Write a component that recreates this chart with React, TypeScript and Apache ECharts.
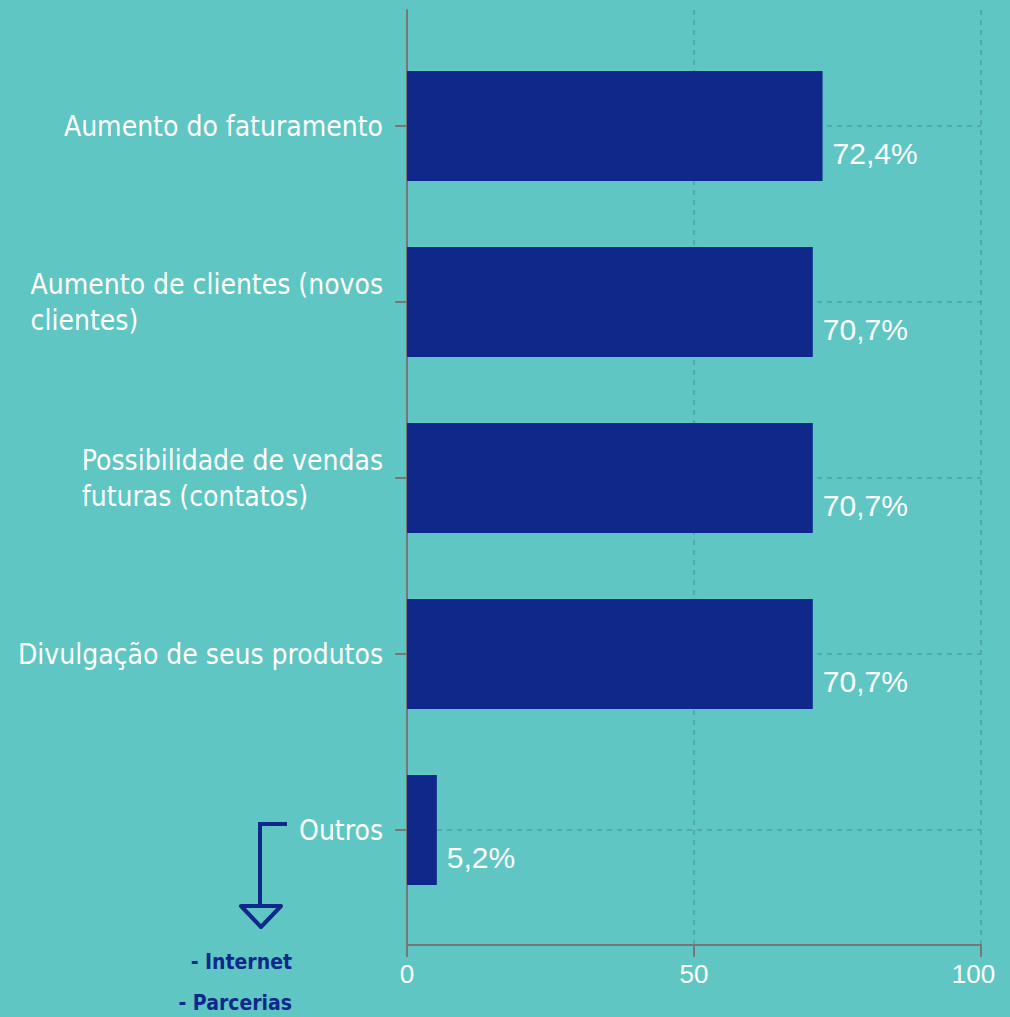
import React, { useEffect, useRef } from "react";
import * as echarts from "echarts";

const categories = [
  "Aumento do faturamento",
  "Aumento de clientes (novos\nclientes)",
  "Possibilidade de vendas\nfuturas (contatos)",
  "Divulgação de seus produtos",
  "Outros",
];
const values = [72.4, 70.7, 70.7, 70.7, 5.2];
const valueLabels = ["72,4%", "70,7%", "70,7%", "70,7%", "5,2%"];
const xTicks = [0, 50, 100];
const noteLines = ["- Internet", "- Parcerias"];

const BG = "#5fc6c3";
const NAVY = "#10288a";
const AXIS = "#777777";
const SPLIT = "#4ea2a2";
const LABEL_FONT = "'Liberation Sans Narrow', 'DejaVu Sans Condensed', 'Noto Sans', sans-serif";
const LABEL_SIZE = 28;

function measure(text: string, font: string): number {
  const c = document.createElement("canvas");
  const ctx = c.getContext("2d");
  if (!ctx) return text.length * 14;
  ctx.font = font;
  return ctx.measureText(text).width;
}

export default function App() {
  const ref = useRef<HTMLDivElement>(null);
  useEffect(() => {
    if (!ref.current) return;
    const chart = echarts.init(ref.current, undefined, { renderer: "svg" });
    const font = `${LABEL_SIZE}px ${LABEL_FONT}`;
    const rich: Record<string, any> = {};
    categories.forEach((c, i) => {
      const w = Math.max(...c.split("\n").map((l) => measure(l, font))) + 2;
      rich["c" + i] = {
        width: w,
        align: "left",
        color: "#ffffff",
        fontSize: LABEL_SIZE,
        fontFamily: LABEL_FONT,
        lineHeight: 36,
      };
    });
    chart.setOption({
      animation: false,
      backgroundColor: BG,
      grid: [
        { left: 407, right: 29, top: 10, bottom: 72, containLabel: false, outerBoundsMode: "none" },
        { left: 407, right: 29, top: 126, bottom: 187, containLabel: false, outerBoundsMode: "none" },
      ],
      xAxis: [
        {
          type: "value",
          gridIndex: 0,
          min: 0,
          max: 100,
          interval: 50,
          axisLine: { show: true, lineStyle: { color: AXIS, width: 2 } },
          axisTick: { show: true, length: 12, lineStyle: { color: AXIS, width: 2 } },
          axisLabel: {
            color: "#ffffff",
            fontSize: 26,
            fontFamily: "'Liberation Sans', Arial, sans-serif",
            margin: 16,
            formatter: (v: number) =>
              xTicks.includes(v) ? (v === 100 ? `{r|${v}}` : String(v)) : "",
            rich: {
              r: {
                color: "#ffffff",
                fontSize: 26,
                fontFamily: "'Liberation Sans', Arial, sans-serif",
                padding: [0, 15, 0, 0],
              },
            },
          },
          splitLine: { show: true, lineStyle: { color: SPLIT, width: 1.5, type: [5, 5] } },
        },
        {
          type: "value",
          gridIndex: 1,
          min: 0,
          max: 100,
          show: false,
        },
      ],
      yAxis: [
        {
          type: "value",
          gridIndex: 0,
          min: 0,
          max: 1,
          axisLine: { show: true, lineStyle: { color: AXIS, width: 2 } },
          axisTick: { show: false },
          axisLabel: { show: false },
          splitLine: { show: false },
        },
        {
          type: "category",
          gridIndex: 1,
          data: categories,
          inverse: true,
          boundaryGap: false,
          axisLine: { show: false },
          axisTick: { show: true, length: 12, lineStyle: { color: AXIS, width: 2 } },
          axisLabel: {
            margin: 22,
            align: "right",
            formatter: (v: string) => {
              const i = categories.indexOf(v);
              return v
                .split("\n")
                .map((l) => `{c${i}|${l}}`)
                .join("\n");
            },
            rich,
          },
          splitLine: { show: true, lineStyle: { color: SPLIT, width: 1.5, type: [5, 5] } },
        },
      ],
      series: [
        {
          type: "bar",
          xAxisIndex: 1,
          yAxisIndex: 1,
          data: values,
          barWidth: 110,
          clip: false,
          z: 5,
          itemStyle: { color: NAVY },
          label: {
            show: true,
            position: "right",
            distance: 10,
            offset: [0, 27],
            color: "#ffffff",
            fontSize: 30,
            fontFamily: "'Liberation Sans', Arial, sans-serif",
            formatter: (p: any) => valueLabels[p.dataIndex],
          },
        },
      ],
      graphic: [
        {
          type: "polyline",
          shape: { points: [[287, 824], [260, 824], [260, 906]] },
          style: { stroke: NAVY, lineWidth: 4, fill: "none" },
          z: 10,
        },
        {
          type: "polygon",
          shape: { points: [[241, 906], [281, 906], [261, 927]] },
          style: { stroke: NAVY, lineWidth: 4, fill: "none", lineJoin: "round" },
          z: 10,
        },
        {
          type: "text",
          x: 292,
          y: 962,
          style: {
            text: noteLines[0],
            fill: NAVY,
            font: `bold 21px ${LABEL_FONT}`,
            align: "right",
            verticalAlign: "middle",
          },
          z: 10,
        },
        {
          type: "text",
          x: 292,
          y: 1003,
          style: {
            text: noteLines[1],
            fill: NAVY,
            font: `bold 21px ${LABEL_FONT}`,
            align: "right",
            verticalAlign: "middle",
          },
          z: 10,
        },
      ],
    });
    return () => chart.dispose();
  }, []);
  return (
    <div
      ref={ref}
      style={{ position: "fixed", left: 0, top: 0, width: 1010, height: 1017, background: BG }}
    />
  );
}
